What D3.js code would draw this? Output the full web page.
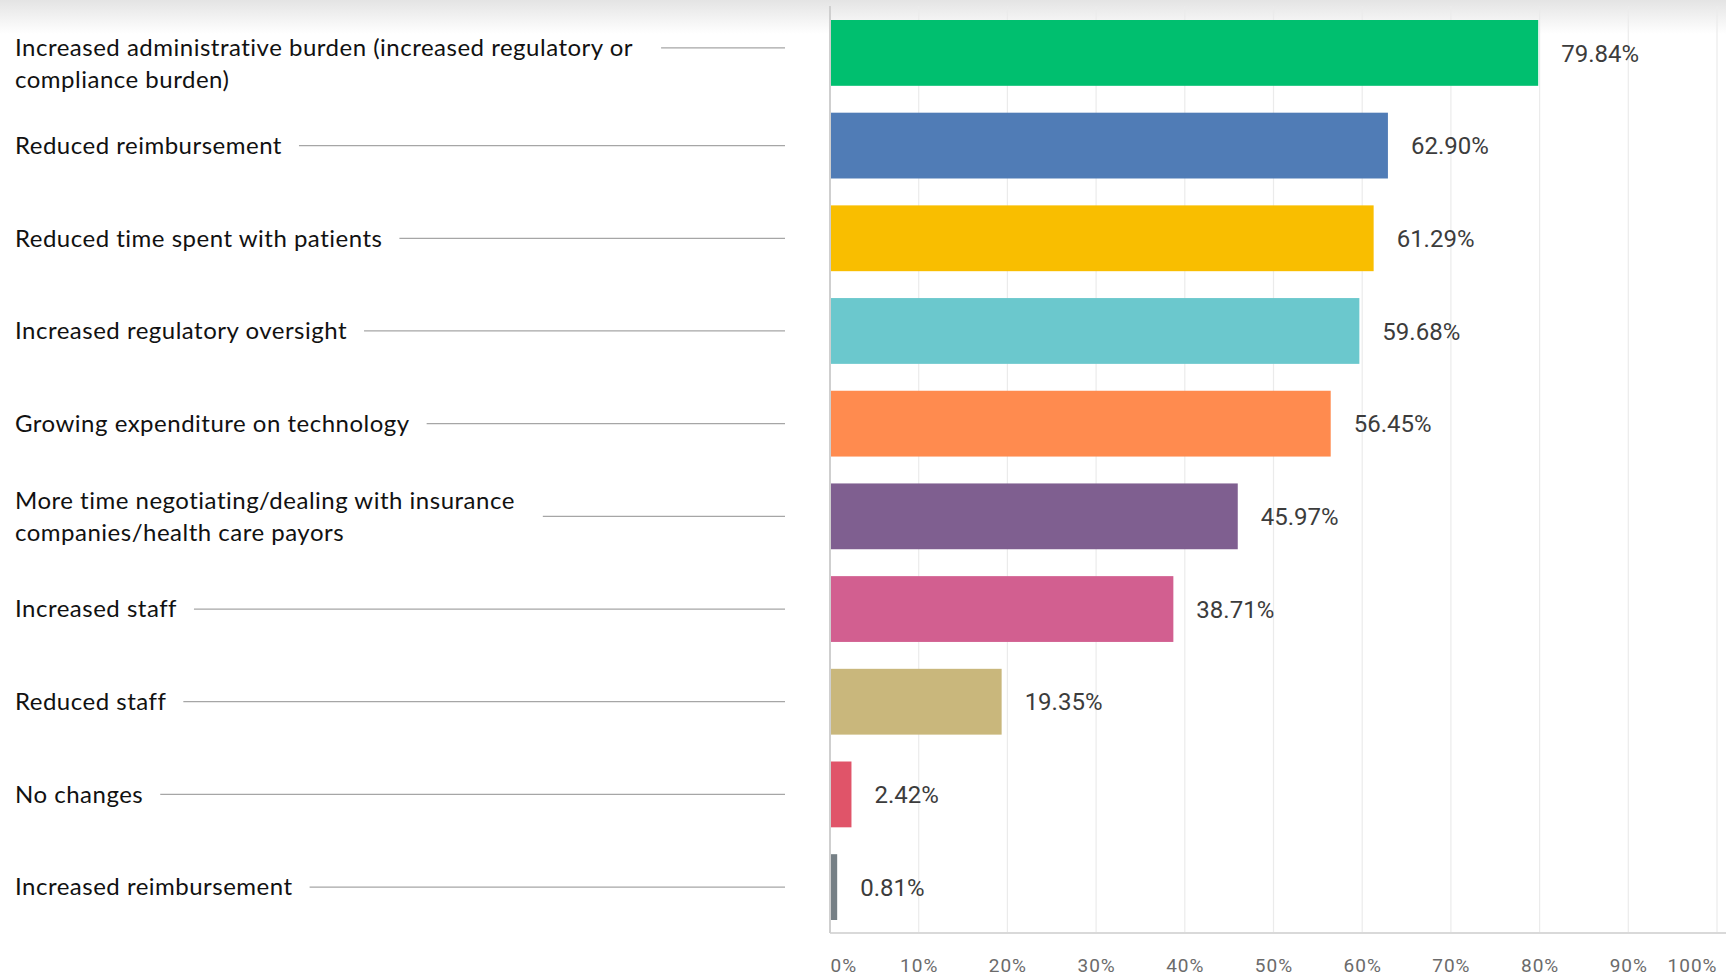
<!DOCTYPE html>
<html>
<head>
<meta charset="utf-8">
<script src="https://cdn.jsdelivr.net/npm/d3@7"></script>
<style>
  html, body { margin: 0; padding: 0; background: #fff; }
  svg { display: block; }
</style>
</head>
<body>
<svg id="chart" width="1726" height="977"></svg>
<script>
const categories = [
  "Increased administrative burden (increased regulatory or|compliance burden)",
  "Reduced reimbursement",
  "Reduced time spent with patients",
  "Increased regulatory oversight",
  "Growing expenditure on technology",
  "More time negotiating/dealing with insurance|companies/health care payors",
  "Increased staff",
  "Reduced staff",
  "No changes",
  "Increased reimbursement"
];
const values = [79.84, 62.90, 61.29, 59.68, 56.45, 45.97, 38.71, 19.35, 2.42, 0.81];
const barColors = ["#00BF6F", "#507CB6", "#F9BE00", "#6BC8CD", "#FF8B4F", "#7F5F90", "#D25F90", "#C9B77C", "#E05469", "#768086"];
const tickValues = [0, 10, 20, 30, 40, 50, 60, 70, 80, 90, 100];
const tickLabels = ["0%", "10%", "20%", "30%", "40%", "50%", "60%", "70%", "80%", "90%", "100%"];

const W = 1726, H = 977;
const svg = d3.select("#chart");

// top shadow gradient
const defs = svg.append("defs");
const grad = defs.append("linearGradient").attr("id", "topShade").attr("x1", 0).attr("y1", 0).attr("x2", 0).attr("y2", 1);
grad.append("stop").attr("offset", "0%").attr("stop-color", "#e4e4e4");
grad.append("stop").attr("offset", "100%").attr("stop-color", "#ffffff");
svg.append("rect").attr("x", 0).attr("y", 0).attr("width", W).attr("height", 34).attr("fill", "url(#topShade)");

const x = d3.scaleLinear().domain([0, 100]).range([830, 1717]);
const y = d3.scaleBand().domain(categories).range([20, 920]).paddingInner(0.29).paddingOuter(0);

const plotTop = 6, plotBottom = 933;

// gridlines
svg.append("g").selectAll("line").data(tickValues.slice(1)).join("line")
  .attr("x1", d => x(d)).attr("x2", d => x(d))
  .attr("y1", plotTop).attr("y2", plotBottom)
  .attr("stroke", "#ebebeb").attr("stroke-width", 1.2);

// x axis (bottom)
const xAxis = d3.axisBottom(x).tickValues(tickValues).tickSize(0).tickFormat((d, i) => tickLabels[i]);
const gx = svg.append("g").attr("transform", `translate(0,${plotBottom})`).call(xAxis);
gx.select(".domain").remove();
gx.selectAll("text")
  .attr("y", 32)
  .attr("dy", "0.36em")
  .attr("fill", "#6b6b6b")
  .style("font-family", "Roboto, 'Liberation Sans', sans-serif")
  .style("font-size", "19px")
  .style("letter-spacing", "1px")
  .attr("text-anchor", (d, i) => i === 0 ? "start" : (i === tickValues.length - 1 ? "end" : "middle"));

svg.append("line").attr("x1", x(0)).attr("x2", W).attr("y1", plotBottom).attr("y2", plotBottom)
  .attr("stroke", "#d9d9d9").attr("stroke-width", 2);
svg.append("line").attr("x1", x(0)).attr("x2", x(0)).attr("y1", plotTop).attr("y2", plotBottom)
  .attr("stroke", "#cfcfcf").attr("stroke-width", 2);

// bars
svg.append("g").selectAll("rect").data(categories).join("rect")
  .attr("x", x(0) + 1)
  .attr("y", d => y(d))
  .attr("width", (d, i) => x(values[i]) - x(0) - 1)
  .attr("height", y.bandwidth())
  .attr("fill", (d, i) => barColors[i]);

// value labels
svg.append("g").selectAll("text").data(categories).join("text")
  .attr("x", (d, i) => x(values[i]) + 23)
  .attr("y", d => y(d) + y.bandwidth() / 2)
  .attr("dy", "0.36em")
  .attr("fill", "#3c3c3c")
  .style("font-family", "Roboto, 'Liberation Sans', sans-serif")
  .style("font-size", "24px")
  .text((d, i) => values[i].toFixed(2) + "%");

// category labels + connectors
const labelG = svg.append("g");
categories.forEach((c, i) => {
  const lines = c.split("|");
  const cy = y(c) + y.bandwidth() / 2;
  let firstY;
  if (lines.length === 1) firstY = cy;
  else if (i === 0) firstY = cy - 5;
  else firstY = cy - 16;
  const t = labelG.append("text")
    .attr("x", 15)
    .attr("fill", "#111")
    .style("font-family", "Lato, 'Open Sans', sans-serif")
    .style("font-size", "24px")
    .style("letter-spacing", "0.5px");
  lines.forEach((ln, j) => {
    t.append("tspan").attr("x", 15).attr("y", firstY + j * 32).attr("dy", "0.35em").text(ln);
  });
  const maxW = d3.max(t.selectAll("tspan").nodes(), n => n.getComputedTextLength());
  const lineY = lines.length === 1 || i === 0 ? firstY : cy;
  const startX = lines.length === 1 ? 15 + maxW + 17 : 15 + maxW + 28;
  labelG.append("line")
    .attr("x1", startX).attr("x2", 785)
    .attr("y1", lineY).attr("y2", lineY)
    .attr("stroke", "#a6a6a6").attr("stroke-width", 1.2);
});
</script>
</body>
</html>
